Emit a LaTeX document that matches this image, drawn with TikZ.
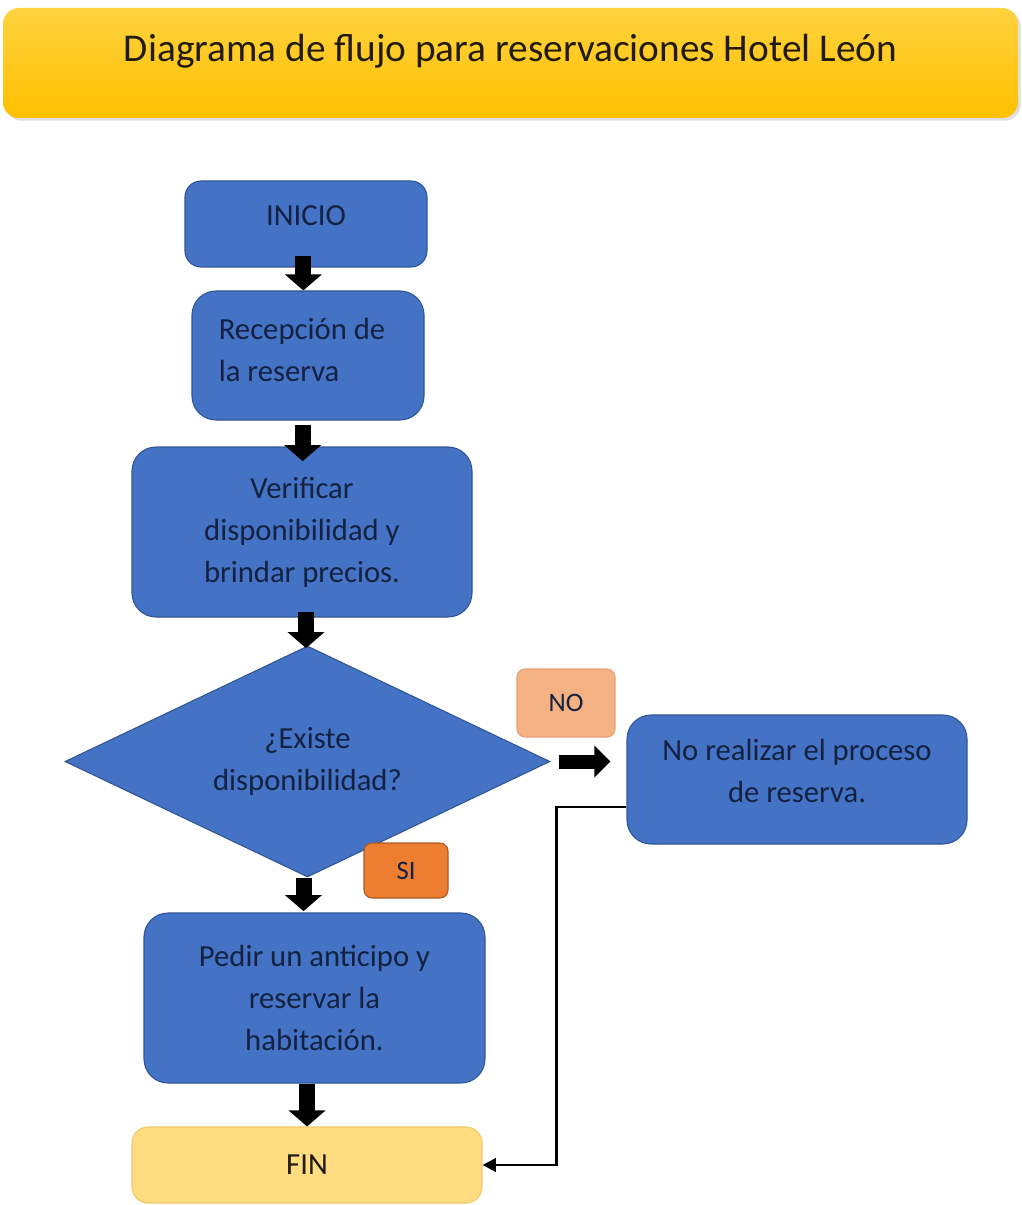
\documentclass[tikz,border=0pt]{standalone}
\usepackage{fontspec}
\setmainfont{Carlito}
\usetikzlibrary{shapes.geometric,arrows.meta,shadows}
\definecolor{boxblue}{HTML}{4472C4}
\definecolor{boxedge}{HTML}{2F5597}
\definecolor{navy}{HTML}{142242}
\definecolor{gold}{HTML}{FFC000}
\definecolor{goldtop}{HTML}{FFD23F}
\definecolor{salmon}{HTML}{F4B183}
\definecolor{orangebox}{HTML}{ED7D31}
\definecolor{finfill}{HTML}{FFDC80}
\tikzset{
  px/.style={x=0.75pt,y=-0.75pt},
  stepbox/.style={draw=boxedge,line width=0.8pt,fill=boxblue,rounded corners=18pt,
    text=navy,font=\fontsize{23}{31.5}\selectfont,align=center,inner sep=0pt},
  tagbox/.style={draw,line width=0.8pt,rounded corners=6pt,inner sep=0pt,
    font=\fontsize{20}{24}\selectfont,text=navy},
  blockarrow/.style={line width=12pt,-{Triangle[width=27pt,length=12pt]},black},
  conn/.style={line width=2.2pt,-{Triangle[width=10pt,length=10pt]},black},
}
\begin{document}
\begin{tikzpicture}[px]
\useasboundingbox (0,0) rectangle (1021,1205);
% title banner
\node[rounded corners=12pt,top color=goldtop,bottom color=gold,
  drop shadow={opacity=0.25,shadow xshift=2pt,shadow yshift=-2pt},
  minimum width=1015*0.75pt,minimum height=110*0.75pt,inner sep=0pt]
  (title) at (510.5,63) {};
\node[font=\fontsize{29.5}{32}\selectfont,text={rgb,255:red,34;green,28;blue,16}]
  (titletext) at ([yshift=9pt]title.center) {Diagrama de flujo para reservaciones Hotel León};
% process steps
\node[stepbox,rounded corners=12pt,minimum width=242*0.75pt,minimum height=86*0.75pt,
  text depth=12pt]
  (inicio) at (306,224) {INICIO};
\node[stepbox,align=left,text depth=8pt,minimum width=232*0.75pt,minimum height=129*0.75pt]
  (recep) at (308,355.5) {Recepción de\hspace*{9pt}\\la reserva};
\node[stepbox,minimum width=340*0.75pt,minimum height=170*0.75pt]
  (verif) at (302,532) {Verificar\\disponibilidad y\\brindar precios.};
\node[diamond,draw=boxedge,line width=0.8pt,fill=boxblue,shape aspect=2.1,
  minimum width=485*0.75pt,minimum height=231*0.75pt,inner sep=0pt,
  text=navy,font=\fontsize{23}{31.5}\selectfont,align=center]
  (disp) at (307.5,761.5) {¿Existe\\disponibilidad?};
\node[stepbox,text depth=13pt,minimum width=340*0.75pt,minimum height=129*0.75pt]
  (noreal) at (797,779.5) {No realizar el proceso\\de reserva.};
\node[stepbox,minimum width=341*0.75pt,minimum height=170*0.75pt]
  (pedir) at (314.5,998) {Pedir un anticipo y\\reservar la\\habitación.};
\node[stepbox,draw={rgb,255:red,240;green,200;blue,110},fill=finfill,rounded corners=12pt,
  minimum width=350*0.75pt,minimum height=76*0.75pt,text={rgb,255:red,30;green,26;blue,22}]
  (fin) at (307,1165) {FIN};
% answer tags
\node[tagbox,draw={rgb,255:red,230;green,160;blue,120},fill=salmon,
  minimum width=98*0.75pt,minimum height=68*0.75pt] (no) at (566,703) {NO};
\node[tagbox,draw={rgb,255:red,170;green,90;blue,35},fill=orangebox,
  minimum width=84*0.75pt,minimum height=55*0.75pt] (si) at (406,870.5) {SI};
% flow arrows
\draw[blockarrow] ([xshift=-2pt,yshift=9pt]inicio.south) -- ([xshift=-2pt]inicio.south |- recep.north);
\draw[blockarrow] ([xshift=-4pt,yshift=-3pt]recep.south) -- ([xshift=-4pt,yshift=-11pt]recep.south |- verif.north);
\draw[blockarrow] ([xshift=3pt,yshift=4pt]verif.south) -- ([xshift=3pt,yshift=-2pt]verif.south |- disp.north);
\draw[blockarrow] ([xshift=-3pt]disp.south) -- ([xshift=-3pt,yshift=1pt]disp.south |- pedir.north);
\draw[blockarrow] ([xshift=-5.6pt]pedir.south) -- ([xshift=-5.6pt]pedir.south |- fin.north);
\draw[line width=10.5pt,-{Triangle[width=23pt,length=12pt]},black]
  ([xshift=6pt]disp.east) -- ([xshift=-12pt]noreal.west |- disp.east);
% return path from the rejected branch
\draw[conn] ([yshift=-20.6pt]noreal.west) -- ++(-70,0) |- (fin.east);
\end{tikzpicture}
\end{document}
